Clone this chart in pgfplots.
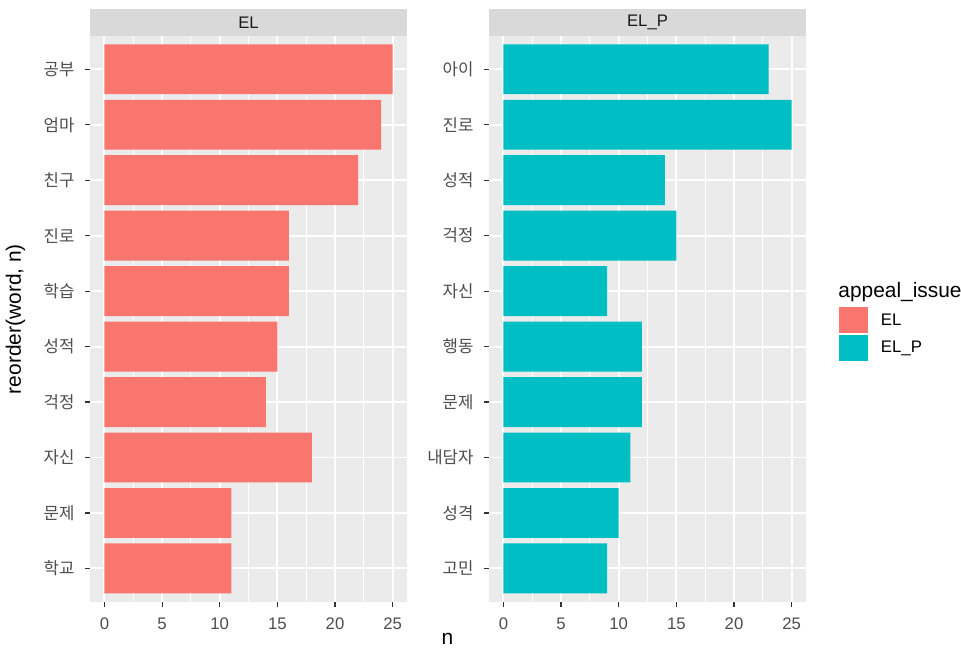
\documentclass[border=0pt]{standalone}
\usepackage{fontspec}
\setmainfont{Liberation Sans}
\newfontfamily\kr{Noto Sans CJK KR}
\usepackage{pgfplots}
\pgfplotsset{compat=1.18}
\definecolor{elred}{HTML}{F8766D}
\definecolor{elteal}{HTML}{00BFC4}
\definecolor{ggbg}{HTML}{EBEBEB}
\definecolor{ggstrip}{HTML}{D9D9D9}
\definecolor{gg30}{HTML}{4D4D4D}
\definecolor{gg20}{HTML}{333333}
\definecolor{gg10}{HTML}{1A1A1A}
\pgfplotsset{
  ggpanel/.style={
    xbar, bar width=0.9, bar shift=0pt,
    scale only axis, width=166.8pt, height=297.56pt,
    anchor=south west,
    xmin=-1.25, xmax=26.25, ymin=0.4, ymax=10.6,
    xtick={0,5,10,15,20,25},
    minor xtick={2.5,7.5,12.5,17.5,22.5},
    ytick={1,...,10},
    xmajorgrids, xminorgrids, ymajorgrids,
    major grid style={white, line width=1.0pt},
    minor grid style={white, line width=0.5pt},
    axis background/.style={fill=ggbg},
    axis line style={draw=none},
    tick pos=left, tick align=outside,
    major tick length=2.75pt, minor tick length=0pt,
    major tick style={gg20, line width=0.6pt},
    /pgf/number format/assume math mode=true,
    tick label style={font=\fontsize{8.8}{10}\selectfont, text=gg30},
    yticklabel style={font=\kr\fontsize{8.8}{10}\selectfont, inner sep=0pt, xshift=-5.2pt},
    xticklabel style={inner sep=0pt, yshift=-5.4pt},
    clip=false,
  }
}
\begin{document}
\begin{tikzpicture}
\useasboundingbox[fill=white] (0pt,0pt) rectangle (505.49pt,342.43pt);
% left panel
\begin{axis}[ggpanel, at={(47.34pt,25.93pt)},
  yticklabels={학교,문제,자신,걱정,성적,학습,진로,친구,엄마,공부}]
\addplot[fill=elred, draw=none] coordinates {
(11,1) (11,2) (18,3) (14,4) (15,5) (16,6) (16,7) (22,8) (24,9) (25,10)};
\fill[ggstrip] (rel axis cs:0,1) rectangle ([yshift=14.2pt]rel axis cs:1,1);
\node[font=\fontsize{8.8}{10}\selectfont, text=gg10] at ([yshift=7.1pt]rel axis cs:0.5,1) {EL};
\end{axis}
% right panel
\begin{axis}[ggpanel, at={(257.21pt,25.93pt)},
  yticklabels={고민,성격,내담자,문제,행동,자신,걱정,성적,진로,아이}]
\addplot[fill=elteal, draw=none] coordinates {
(9,1) (10,2) (11,3) (12,4) (12,5) (9,6) (15,7) (14,8) (25,9) (23,10)};
\fill[ggstrip] (rel axis cs:0,1) rectangle ([yshift=14.2pt]rel axis cs:1,1);
\node[font=\fontsize{8.8}{10}\selectfont, text=gg10] at ([yshift=7.1pt]rel axis cs:0.5,1) {EL\_P};
\end{axis}
% axis titles
\node[rotate=90, font=\fontsize{11}{13}\selectfont] at (8.15pt,174.6pt) {reorder(word, n)};
\node[anchor=base, font=\fontsize{11}{13}\selectfont, inner sep=0pt] at (235.4pt,3.16pt) {n};
% legend
\node[anchor=base west, inner sep=0pt, font=\fontsize{11}{13}\selectfont] at (440.8pt,185.7pt) {appeal\_issue};
\fill[elred] (441.3pt,167.4pt) rectangle (456.6pt,181.1pt);
\fill[elteal] (441.3pt,152.7pt) rectangle (456.6pt,166.2pt);
\node[anchor=west, inner sep=0pt, font=\fontsize{8.8}{10}\selectfont] at (463.2pt,174.1pt) {EL};
\node[anchor=west, inner sep=0pt, font=\fontsize{8.8}{10}\selectfont] at (463.2pt,159.4pt) {EL\_P};
\end{tikzpicture}
\end{document}
